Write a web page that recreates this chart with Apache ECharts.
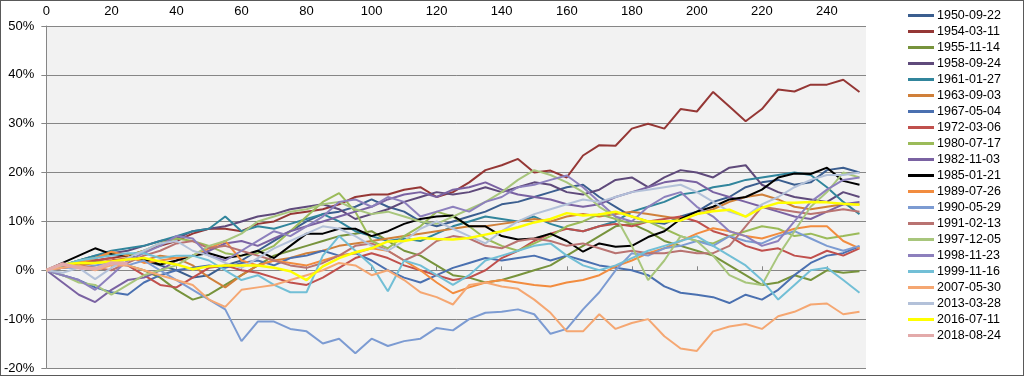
<!DOCTYPE html>
<html lang="en">

<head>
  <meta charset="UTF-8">
  <title>S&P 500 paths</title>
  <script src="https://cdn.jsdelivr.net/npm/echarts@6/dist/echarts.min.js"></script>
  <style>
    body { margin: 0; background: #fff; }
    #main { width: 1024px; height: 376px; box-sizing: border-box; border: 1px solid #595959; }
  </style>
</head>

<body>
  <div id="main"></div>
  <script>
    // trading days after the start date (one point every 5 days)
    var days = [0, 5, 10, 15, 20, 25, 30, 35, 40, 45, 50, 55, 60, 65, 70, 75, 80, 85, 90, 95, 100,
      105, 110, 115, 120, 125, 130, 135, 140, 145, 150, 155, 160, 165, 170, 175, 180, 185, 190, 195, 200,
      205, 210, 215, 220, 225, 230, 235, 240, 245, 250];

    // return since the start date, in %
    var s1950 = [0, 1, 2, 3, 3.5, 3, 2, 1, 0, -1.5, -1, 1, 2, 4, 6, 8, 10, 11.5, 12, 13, 14.5, 13, 12, 10, 9, 10, 11, 12, 13.5, 14, 15, 16, 17, 17.5, 15, 13, 11, 10, 9.5, 11, 12, 14, 15, 17, 18, 18.5, 17.5, 18, 20.5, 21, 20];
    var s1954 = [0, 0.5, 1.5, 2, 2.5, 3, 4, 5, 6, 7.5, 8.5, 8.5, 8, 9.5, 10, 11.5, 12, 12.5, 13.5, 15, 15.5, 15.5, 16.5, 17, 15, 16, 18, 20.5, 21.5, 22.8, 20, 20.4, 19, 23.5, 25.6, 25.5, 29, 30, 29, 33, 32.5, 36.5, 33.5, 30.5, 33, 37, 36.6, 38, 38, 39, 36.5];
    var s1955 = [0, 0.5, 1, 2, 1.5, 1, 0, -1.5, -4, -6, -5, -3, -1, 1, 3, 4, 5, 6, 7, 7.5, 8, 6, 4, 3, 1, -1, -1.5, -2.5, -2, -1, 0, 1, 3, 5, 7, 9, 9.5, 8, 6, 5, 4, 3, 1, -1, -3, -2.5, -1, -2, 0, -0.5, -0.2];
    var s1958 = [0, 0.5, 1.5, 2.5, 3.5, 4, 5, 6, 6.5, 8, 8.5, 9, 10, 11, 11.5, 12.5, 13, 13.5, 12.5, 10.5, 11.5, 12.5, 14, 15, 16, 15.5, 16, 17, 16, 17, 18, 17.5, 16, 15.5, 16.5, 18.5, 19, 17, 19, 20.5, 20, 19, 21, 21.5, 17.5, 16, 15, 14.5, 14, 16, 15];
    var s1961 = [0, 1, 2, 3, 4, 4.5, 5, 6, 7, 8, 8.5, 11, 8, 9, 8.5, 9.5, 10.5, 11.5, 10, 8, 7, 6, 6.5, 6, 7.5, 9, 10, 11, 10.5, 10, 11, 9.5, 8.5, 8, 9, 10, 12, 13, 14, 15.5, 16, 17, 17.5, 18.5, 19, 19.5, 20, 19.5, 17, 14, 11.5];
    var s1963 = [0, 0.5, 1, 1.5, 2, 2.5, 2, 3, 2.5, 1, -1.5, -3.5, -1, 1, 2, 2.5, 3.5, 4, 5, 5.5, 6, 6.5, 7, 7.5, 8, 8.5, 9, 9, 9.5, 10, 10.5, 10, 11, 11.5, 11, 11.5, 12, 11.5, 11, 10.5, 11.5, 12.5, 14, 15, 15.5, 14.5, 13, 12.5, 13, 13.5, 13.5];
    var s1967 = [0, -1, -2, -3.5, -4.5, -5, -2.5, -1, 0, 0.5, 1, 0.5, 1.5, 2, 1, 2.5, 3, 4, 3, 3.5, 2, 0, -1.5, -2.5, -1, 0.5, 1.5, 2.5, 2, 2.5, 3, 2, 3, 2, 1, 0.5, 0, -1, -3.3, -4.6, -5, -5.5, -6.7, -5, -6, -4, -1, 1.5, 3, 3.5, 4.9];
    var s1972 = [0, 1, 1.5, 2, 2.5, 1, -1, -3, -3.5, -1.5, 0.5, 1, 0, -0.5, -1.5, -2.5, -3, -1.5, 0.5, 2.5, 3.5, 2.5, 1, 0, -1, -2, -1.5, 0, 2.5, 4, 6, 7.5, 8.5, 8, 9, 9.5, 9, 10, 10.5, 11, 10, 8, 7, 5, 4, 4.5, 3, 2.5, 4, 3, 4.5];
    var s1980 = [0, 1, 2, 2.5, 3.5, 3, 4, 5.5, 6.5, 6, 5, 3.5, 3, 3.5, 5, 8, 11, 14, 15.8, 12, 6, 4.5, 7, 9, 12, 11, 9, 6.5, 5, 4, 5.5, 7, 9, 10, 11.5, 10.5, 9.5, 10, 8.5, 7, 6, 5.5, 7, 8, 9, 8.5, 7, 7.5, 6.5, 7, 7.6];
    var s1982 = [0, -2.5, -5, -6.5, -4, -2, -1.5, 0, 2, 3, 4, 5.5, 6, 5, 6.5, 8, 9, 10, 11, 12, 13, 14.5, 15.5, 16, 15, 16.5, 17, 18, 16.5, 15.5, 15, 14.5, 13.5, 13, 13.5, 15, 16, 17, 18, 18.5, 18, 16, 15, 14, 13, 12, 11, 10.5, 12, 13.5, 14];
    var s1985 = [0, 1.5, 3, 4.5, 3.3, 3, 2.2, 1.2, 2, 3, 3.5, 2.5, 3, 4, 2.5, 5, 7.5, 7.5, 8.5, 8.5, 7, 8, 9.5, 10.5, 11, 11.2, 9, 9, 7, 6.3, 6.5, 7.5, 6, 3.8, 5.5, 4.8, 5, 6.8, 8, 10.5, 12, 13, 14.5, 15, 16.5, 19, 19.8, 19.7, 21, 18.3, 17.5];
    var s1989 = [0, 1, 1.5, 2.5, 3.8, 3, 1.5, 2, 2.5, 3, 4.5, 6, 2, 1, 2, 1.5, 1, 2, 3, 3.5, 4.5, 4, 2, 0, -2.5, -4.7, -3.5, -2.5, -2, -2.5, -3, -3.3, -2.5, -2, -1, 0.8, 2, 3.5, 4.5, 6, 7.5, 8.6, 8, 7, 6.5, 7.5, 8.5, 9, 9, 6, 4.5];
    var s1990 = [0, 0.5, 0.5, 1, 1.5, 1, 2, 0, -2, -4, -6, -8, -14.5, -10.5, -10.5, -12, -12.5, -15, -14, -17, -14, -15.5, -14.5, -14, -11.8, -12.3, -10, -8.7, -8.5, -8, -9, -13, -12, -8, -4.5, 0, 3.5, 3, 4.5, 5, 6, 5, 7, 6, 5.5, 7, 8, 6.5, 5, 4, 5];
    var s1991 = [0, 0.5, 1, 0.5, 0, 1.5, 3, 4, 5.5, 6, 4.5, 5, 4, 3, 2, 1, 0.5, 1.5, 3, 5, 5.5, 4, 2, 3.5, 6, 7, 6.5, 5, 4.5, 6, 6.5, 6, 5, 5.5, 4.5, 3.5, 4, 3.5, 3.5, 4, 3.5, 3.5, 5, 9, 13, 12.5, 12, 11.5, 12, 12.5, 12];
    var s1997 = [0, -1, -2.5, -3, -5, -3, -1, 0, 1, 3, 5, 6, 7.5, 10, 11, 12, 12.5, 13.5, 14, 12.5, 11.5, 12, 11, 10, 9.5, 11, 12.5, 14, 16, 18.5, 20.5, 19.5, 18, 16, 13, 11, 5, -2, 2, 7, 6, 3, -1, -2.5, -3, 3, 8, 13, 16, 20, 19];
    var s1998 = [0, -1, -2, -4, -1, 2, 3.5, 5, 7, 6.5, 3, 2, 4, 6, 8, 7, 9, 11, 14, 14.5, 13, 15, 14, 11, 12, 13, 12, 14, 15, 17, 17.5, 18.5, 19.4, 17, 14, 11, 10, 13, 15, 16, 13, 11, 8, 7, 5, 6, 10, 14, 16.5, 18.5, 19];
    var s1999 = [0, 1, 2, 2.5, 3, 3.5, 3.5, 2.5, 3, 3, 2, 0, -2, -1, -3, -4.5, -4.5, 3, 7, 4, 1, -4.3, 2, 1, -1, -3, -1, 2, 3, 4, 5, 5.5, 3, 1, 0, 1, 2.5, 4, 5, 6, 7, 5, 3, 1, -2, -6, -3, 0, 0.5, -2, -4.6];
    var s2007 = [0, 0.5, 1, 0, 1, 1, 0, -1, -2, -3, -6, -7.5, -4, -3.5, -3, -2, -1, 0, 1.5, 1, -1, 0, -2, -4.5, -5.5, -7, -3, -2.5, -3.3, -3.8, -6, -8.7, -12.5, -12.5, -9, -12, -10.8, -10, -13.5, -16, -16.5, -12.5, -11.5, -11, -12, -9.4, -8.5, -7, -6.8, -9, -8.5];
    var s2013 = [0, -0.5, 0.5, -1.8, 0.5, 2.5, 4, 5.5, 6, 4, 3, 1.5, 0.5, 2.5, 4.5, 6, 7.5, 9, 8.5, 7, 5, 4, 6, 8.5, 10, 8.5, 7, 5.5, 8, 10, 11.5, 12.5, 13.5, 14.5, 14, 15, 16, 16.5, 17, 17.5, 16, 14, 12, 11, 13.5, 15, 17, 18.5, 19.5, 19.5, 20];
    var s2016 = [0, 1.2, 1.5, 1.5, 1.8, 2.2, 2.5, 1.8, 1.2, 0.2, 0.8, 1, 1, 1, 0.5, -0.2, -2, 0.8, 2.5, 3.7, 4.5, 5.9, 6, 6.6, 6.4, 6.3, 6.6, 7.3, 8, 8.8, 9.8, 10.5, 11.7, 11.2, 11.4, 12, 11, 10, 10, 10.2, 11.5, 12.1, 12.4, 11, 12.8, 13.8, 13.8, 14, 13.9, 13.6, 13.4];
    // current period, only a few weeks so far
    var s2018 = [0, 1.3, 0.5, 0.3, 1.5, 1.4];

    var names = ['1950-09-22', '1954-03-11', '1955-11-14', '1958-09-24', '1961-01-27', '1963-09-03',
      '1967-05-04', '1972-03-06', '1980-07-17', '1982-11-03', '1985-01-21', '1989-07-26', '1990-05-29',
      '1991-02-13', '1997-12-05', '1998-11-23', '1999-11-16', '2007-05-30', '2013-03-28', '2016-07-11', '2018-08-24'];
    var values = [s1950, s1954, s1955, s1958, s1961, s1963, s1967, s1972, s1980, s1982, s1985, s1989, s1990,
      s1991, s1997, s1998, s1999, s2007, s2013, s2016, s2018];
    var colors = ['#3B5E8F', '#953735', '#77933C', '#5F4A7B', '#31859C', '#D0803A', '#4A70B0', '#C0504D',
      '#9BBB59', '#7A62A2', '#000000', '#F28C3F', '#7C9BD2', '#B97371', '#A8C67C', '#8D80BD', '#72BFD6',
      '#F5A772', '#B3C1D9', '#FFFF00', '#E3AAAA'];

    var font = "'Liberation Sans', Arial, sans-serif";

    var series = names.map(function (name, k) {
      var width = 2;
      if (name === '2016-07-11') width = 2.5;
      if (name === '2018-08-24') width = 3.5;
      return {
        name: name,
        type: 'line',
        showSymbol: false,
        symbol: 'none',
        color: colors[k],
        lineStyle: { width: width, color: colors[k] },
        data: values[k].map(function (v, i) { return [days[i], v / 100]; })
      };
    });

    var myChart = echarts.init(document.getElementById('main'));
    var option = {
      animation: false,
      backgroundColor: '#ffffff',
      textStyle: { fontFamily: font },
      grid: {
        left: 44, right: 157, top: 25, bottom: 7,
        show: true, backgroundColor: '#F2F2F2', borderWidth: 0
      },
      legend: {
        orient: 'vertical',
        left: 902,
        top: 3,
        icon: 'rect',
        itemWidth: 26,
        itemHeight: 3,
        itemGap: 3,
        textStyle: { fontSize: 12.5, color: '#000', fontFamily: font, padding: [0, 0, 0, -2] },
        data: names
      },
      xAxis: {
        type: 'value',
        position: 'top',
        min: 0,
        max: 252,
        interval: 20,
        axisLine: { lineStyle: { color: '#868686' } },
        axisTick: { length: 4, lineStyle: { color: '#868686' } },
        axisLabel: { showMaxLabel: false, margin: 8, fontSize: 13, color: '#000', fontFamily: font },
        splitLine: { show: false }
      },
      yAxis: {
        type: 'value',
        min: -0.2,
        max: 0.5,
        interval: 0.1,
        axisLine: { show: true, lineStyle: { color: '#868686' } },
        axisTick: { show: true, length: 5, lineStyle: { color: '#868686' } },
        axisLabel: {
          margin: 12, fontSize: 13, color: '#000', fontFamily: font,
          formatter: function (v) { return Math.round(v * 100) + '%'; }
        },
        splitLine: { lineStyle: { color: '#868686', width: 1 } }
      },
      series: series
    };
    myChart.setOption(option);
  </script>
</body>

</html>
